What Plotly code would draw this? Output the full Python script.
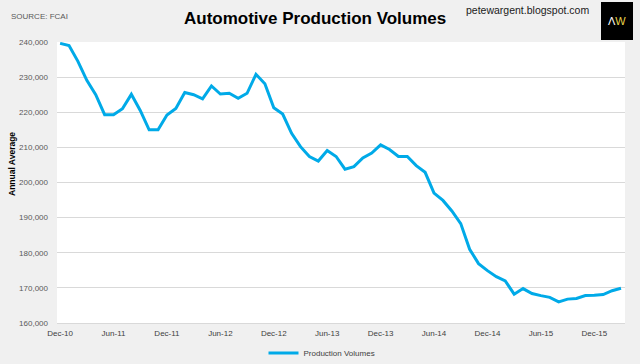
import plotly.graph_objects as go

months = ["Dec-10","Jan-11","Feb-11","Mar-11","Apr-11","May-11","Jun-11","Jul-11","Aug-11","Sep-11","Oct-11","Nov-11",
          "Dec-11","Jan-12","Feb-12","Mar-12","Apr-12","May-12","Jun-12","Jul-12","Aug-12","Sep-12","Oct-12","Nov-12",
          "Dec-12","Jan-13","Feb-13","Mar-13","Apr-13","May-13","Jun-13","Jul-13","Aug-13","Sep-13","Oct-13","Nov-13",
          "Dec-13","Jan-14","Feb-14","Mar-14","Apr-14","May-14","Jun-14","Jul-14","Aug-14","Sep-14","Oct-14","Nov-14",
          "Dec-14","Jan-15","Feb-15","Mar-15","Apr-15","May-15","Jun-15","Jul-15","Aug-15","Sep-15","Oct-15","Nov-15",
          "Dec-15","Jan-16","Feb-16","Mar-16"]

production = [239600, 239000, 234500, 229100, 225000, 219300, 219300, 221000, 225100, 220500, 215000, 215000,
              219200, 221100, 225600, 225000, 223800, 227500, 225200, 225400, 224000, 225400, 230800, 228100,
              221300, 219500, 214000, 210200, 207400, 206100, 209100, 207400, 203800, 204500, 207000, 208400,
              210700, 209400, 207400, 207400, 204800, 202900, 197000, 194900, 191900, 188300, 181000, 176900,
              174900, 173200, 172000, 168200, 169800, 168400, 167800, 167300, 166000, 166800, 167000, 167800,
              167900, 168100, 169200, 169900]

tick_labels = months[::6]
y_ticks = [160000, 170000, 180000, 190000, 200000, 210000, 220000, 230000, 240000]

W, H = 640, 364
ML, MR, MT, MB = 57, 15, 42, 41
pw, ph = W - ML - MR, H - MT - MB

def px_x(x):
    return (x - ML) / pw

def px_y(y):
    return (H - MB - y) / ph

sans = "Liberation Sans, Arial, sans-serif"

fig = go.Figure()
fig.add_trace(go.Scatter(
    x=months, y=production, mode="lines", name="Production Volumes",
    line=dict(color="#00aae8", width=3)))

fig.update_layout(
    template="none",
    width=W, height=H, autosize=False,
    margin=dict(l=ML, r=MR, t=MT, b=MB, autoexpand=False),
    paper_bgcolor="#f0f0f0", plot_bgcolor="#ffffff",
    showlegend=True,
    legend=dict(orientation="h", x=px_x(322), xanchor="center", y=px_y(353), yanchor="middle",
                font=dict(family=sans, size=8, color="#404040"), bgcolor="rgba(0,0,0,0)",
                itemwidth=30),
    xaxis=dict(type="category", categoryorder="array", categoryarray=months,
               tickmode="array", tickvals=tick_labels, ticktext=tick_labels,
               range=[-0.35, 63.45], showgrid=False, zeroline=False, automargin=False,
               showline=True, linecolor="#d9d9d9", linewidth=1,
               ticks="", ticklabelstandoff=2, tickfont=dict(family=sans, size=8, color="#404040")),
    yaxis=dict(range=[160000, 240000], tickmode="array", tickvals=y_ticks,
               tickformat=",", showgrid=True, gridcolor="#d9d9d9", gridwidth=1,
               zeroline=False, ticks="", ticklabelstandoff=8, automargin=False, showline=False,
               tickfont=dict(family=sans, size=8, color="#595959")),
    annotations=[
        dict(text="<b>Automotive Production Volumes</b>", x=px_x(315), y=px_y(19), xref="paper", yref="paper",
             xanchor="center", yanchor="middle", showarrow=False,
             font=dict(family=sans, size=17, color="#000000")),
        dict(text="SOURCE: FCAI", x=px_x(9), y=px_y(16), xref="paper", yref="paper",
             xanchor="left", yanchor="middle", showarrow=False,
             font=dict(family=sans, size=8, color="#595959")),
        dict(text="petewargent.blogspot.com", x=px_x(527), y=px_y(10), xref="paper", yref="paper",
             xanchor="center", yanchor="middle", showarrow=False,
             font=dict(family=sans, size=10.5, color="#1a1a1a")),
        dict(text="<b>Annual Average</b>", x=px_x(12), y=px_y(164), xref="paper", yref="paper",
             xanchor="center", yanchor="middle", showarrow=False, textangle=-90,
             font=dict(family=sans, size=8.5, color="#000000")),
        dict(text="<span style='color:#ffffff'>Λ</span><span style='color:#e8d24a'>W</span>",
             x=px_x(617), y=px_y(21), xref="paper", yref="paper",
             xanchor="center", yanchor="middle", showarrow=False,
             font=dict(family=sans, size=11)),
    ],
    shapes=[
        dict(type="rect", xref="paper", yref="paper", x0=px_x(601), x1=px_x(633), y0=px_y(40), y1=px_y(2),
             fillcolor="#000000", line=dict(width=0), layer="below"),
    ],
)

fig.write_html("out.html", config={"displayModeBar": False},
               post_script="document.body.style.margin='0';")
